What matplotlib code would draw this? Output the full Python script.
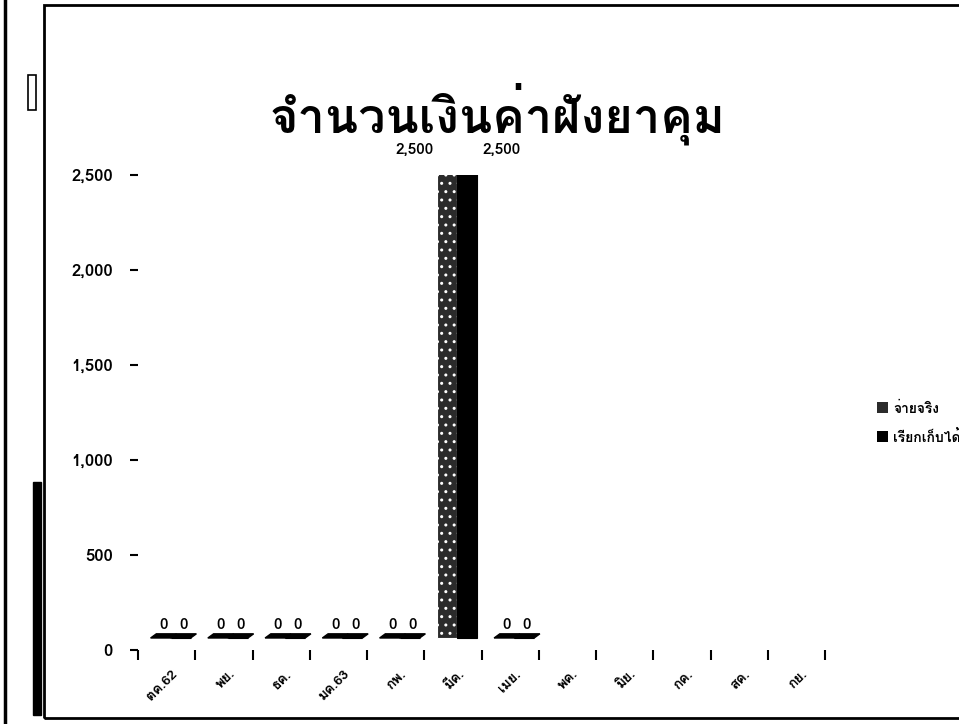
import matplotlib
matplotlib.use("Agg")
import matplotlib.pyplot as plt
import numpy as np
from matplotlib import font_manager, transforms
from matplotlib.patches import Patch, Rectangle
from matplotlib.lines import Line2D

months = ["ตค.62", "พย.", "ธค.", "มค.63", "กพ.", "มีค.", "เมย.",
          "พค.", "มิย.", "กค.", "สค.", "กย."]
paid = [0, 0, 0, 0, 0, 2500, 0]        # จ่ายจริง
billable = [0, 0, 0, 0, 0, 2500, 0]    # เรียกเก็บได้
series_names = ["จ่ายจริง", "เรียกเก็บได้"]
y_ticks = [0, 500, 1000, 1500, 2000, 2500]
title = "จำนวนเงินค่าฝังยาคุม"


def pick_thai_font():
    # prefer a looped Thai family that ships a bold face
    bold = {f.name for f in font_manager.fontManager.ttflist
            if isinstance(f.weight, int) and f.weight >= 600
            or f.weight in ("bold", "heavy", "black", "semibold", "demibold")}
    for name in ["Loma", "Garuda", "Noto Sans Thai Looped", "Noto Sans Thai",
                 "Sarabun", "IBM Plex Sans Thai Looped", "Kanit"]:
        if name in bold:
            return name
    return "Noto Sans Thai"


def main():
    thai = pick_thai_font()
    plt.rcParams["font.family"] = [thai, "DejaVu Sans"]

    fig = plt.figure(figsize=(9.59, 7.24), dpi=100)
    W, H = 959, 724
    ax = fig.add_axes([138 / W, 1 - 650 / H, (825 - 138) / W, (650 - 175) / H])
    ax.set_xlim(0, len(months))
    ax.set_ylim(0, 2500)

    # small 3D-ish depth shift for the columns
    shift = transforms.offset_copy(ax.transData, fig=fig, x=4, y=12, units="dots")
    width = 0.35
    dx, dy = 0.1, 22
    centers = np.arange(len(paid)) + 0.5
    styles = [dict(color="#2b2b2b", edgecolor="white", hatch="..", linewidth=0.8),
              dict(color="black", edgecolor="black", linewidth=0.8)]

    for i, (vals, st) in enumerate(zip([paid, billable], styles)):
        xs = centers + (i - 0.5) * width
        ax.bar(xs, vals, width, transform=shift, zorder=3, **st)
        for xc, v in zip(xs, vals):
            x0, x1 = xc - width / 2, xc + width / 2
            ax.fill([x0, x1, x1 + dx, x0 + dx], [v, v, v + dy, v + dy],
                    color="black", transform=shift, zorder=4)
            if v > 0:
                tx = x0 - 0.05 if i == 0 else x1 + dx
                ha = "right" if i == 0 else "left"
            else:
                tx, ha = xc + dx / 2, "center"
            ax.annotate(f"{v:,}", (tx, v + dy), xycoords=shift, xytext=(0, 1),
                        textcoords="offset points", ha=ha, va="bottom",
                        fontsize=11, fontweight="bold", annotation_clip=False)

    for s in ax.spines.values():
        s.set_visible(False)
    ax.set_yticks(y_ticks)
    ax.set_yticklabels([f"{t:,}" for t in y_ticks], fontsize=12, fontweight="bold")
    ax.tick_params(axis="y", length=6, width=1.5, pad=12)

    ax.set_xticks(np.arange(len(months)) + 0.5)
    ax.set_xticklabels(months, rotation=45, ha="right", rotation_mode="anchor",
                       fontsize=10, fontweight="bold")
    ax.tick_params(axis="x", length=0, pad=13)
    ax.set_xticks(np.arange(0, len(months) + 1), minor=True)
    ax.tick_params(axis="x", which="minor", length=7, width=1.5)
    for lbl in ax.get_xticklabels():
        lbl.set_transform(lbl.get_transform()
                          + transforms.ScaledTranslation(5 / 100, 0, fig.dpi_scale_trans))

    fig.text(497 / W, 1 - 114 / H, title, ha="center", va="center",
             fontsize=35, fontweight="bold")

    handles = [Patch(facecolor="#2b2b2b"), Patch(facecolor="black")]
    fig.legend(handles, series_names, loc="center left",
               bbox_to_anchor=(864 / W, 1 - 423 / H), frameon=False,
               handlelength=0.8, handleheight=0.8, handletextpad=0.4,
               labelspacing=1.0, prop=dict(size=10, weight="bold"))

    # scanned page frame
    fig.add_artist(Line2D([5 / W, 5 / W], [0, 1], color="black", lw=2.5))
    fig.add_artist(Rectangle((44 / W, 6 / H), 1, 1 - 11 / H, fill=False,
                             lw=2, edgecolor="black"))
    fig.add_artist(Rectangle((33 / W, 1 - 715 / H), 8 / W, (715 - 482) / H,
                             color="black"))
    fig.add_artist(Rectangle((28 / W, 1 - 110 / H), 8 / W, 35 / H,
                             fill=False, lw=1.2, edgecolor="black"))

    fig.savefig("out.png", dpi=100)


if __name__ == "__main__":
    main()
